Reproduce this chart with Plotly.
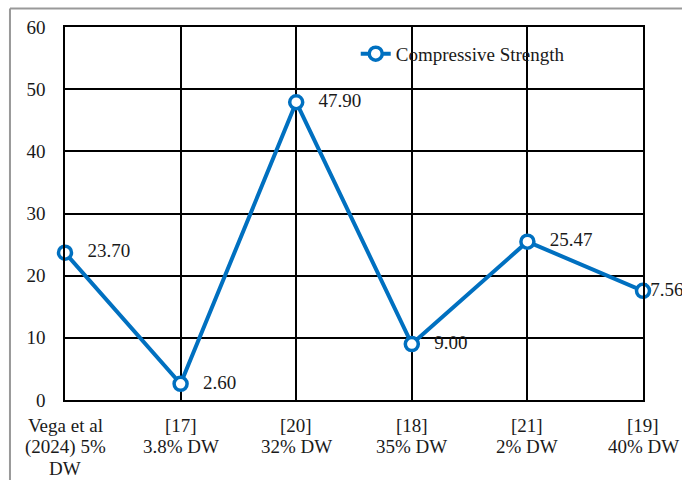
import plotly.graph_objects as go

categories = ["Vega et al<br>(2024) 5%<br>DW", "[17]<br>3.8% DW", "[20]<br>32% DW",
              "[18]<br>35% DW", "[21]<br>2% DW", "[19]<br>40% DW"]
strength = [23.70, 2.60, 47.90, 9.00, 25.47, 17.56]
y_ticks = [0, 10, 20, 30, 40, 50, 60]
series_name = "Compressive Strength"

BLUE = "#0070C0"
FONT = "Liberation Serif"
TXT = "#1a1a1a"
PAD = "\u00a0\u00a0\u2009"
LAST_PAD = "\u00a0" * 8

labels = [f"{PAD}{v:.2f}" for v in strength]
labels[-1] = f"{LAST_PAD}{strength[-1]:.2f}"
positions = ["middle right"] * (len(strength) - 1) + ["middle center"]

fig = go.Figure()
# data labels (drawn below the markers, as in the reference)
fig.add_trace(go.Scatter(
    x=categories, y=strength, showlegend=False, hoverinfo="skip",
    mode="markers+text",
    marker=dict(symbol="circle", size=13, color="rgba(0,0,0,0)",
                line=dict(color="rgba(0,0,0,0)", width=3.5)),
    text=labels, textposition=positions,
    textfont=dict(family=FONT, size=19, color=TXT),
    cliponaxis=False,
))
fig.add_trace(go.Scatter(
    x=categories, y=strength, name=series_name,
    mode="lines+markers",
    line=dict(color=BLUE, width=4),
    marker=dict(symbol="circle", size=13, color="white",
                line=dict(color=BLUE, width=3.5)),
    cliponaxis=False,
))

# category labels, one line each (tighter line spacing than tick labels allow)
annotations = []
for cat in categories:
    for j, line in enumerate(cat.split("<br>")):
        annotations.append(dict(
            x=cat, y=0, xref="x", yref="y", text=line, showarrow=False,
            xanchor="center", yanchor="middle", yshift=-(25 + 21.5 * j),
            font=dict(family=FONT, size=19, color=TXT),
        ))

fig.update_layout(
    width=682, height=480,
    margin=dict(l=65, r=39, t=27, b=80, autoexpand=False),
    paper_bgcolor="white", plot_bgcolor="white",
    font=dict(family=FONT, size=19, color=TXT),
    showlegend=True,
    legend=dict(x=0.503, y=0.928, xanchor="left", yanchor="middle",
                bgcolor="rgba(0,0,0,0)", font=dict(family=FONT, size=19, color=TXT)),
    xaxis=dict(type="category", range=[0, 5], showgrid=True, gridcolor="black",
               gridwidth=1.5, showline=True, linecolor="black", linewidth=1.5,
               mirror=True, ticks="", automargin=False, showticklabels=False,
               zeroline=False),
    yaxis=dict(range=[0, 60], tickvals=y_ticks, showgrid=True, gridcolor="black",
               gridwidth=1.5, showline=True, linecolor="black", linewidth=1.5,
               mirror=True, ticks="outside", ticklen=14, tickcolor="rgba(0,0,0,0)",
               automargin=False,
               tickfont=dict(family=FONT, size=19, color=TXT), zeroline=False),
    annotations=annotations,
    shapes=[
        dict(type="line", xref="paper", yref="paper", x0=-0.0952, x1=1.2, y0=1.0496, y1=1.0496,
             line=dict(color="#999999", width=2)),
        dict(type="line", xref="paper", yref="paper", x0=-0.0952, x1=-0.0952, y0=1.0496, y1=-0.3,
             line=dict(color="#999999", width=2)),
    ],
)

fig.write_html("out.html", config={"displayModeBar": False},
               post_script="document.body.style.margin='0px';")
